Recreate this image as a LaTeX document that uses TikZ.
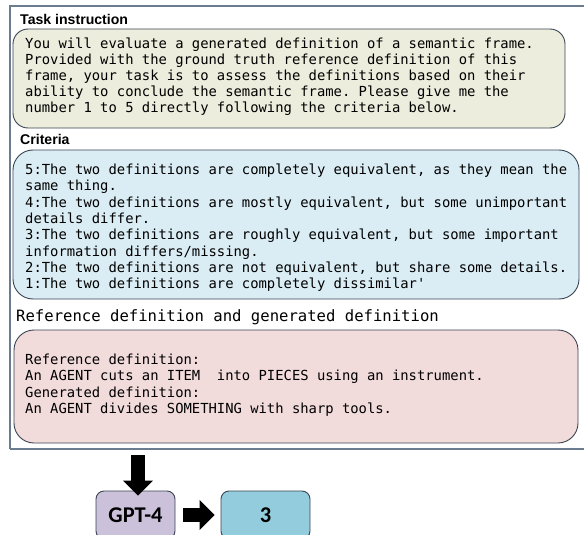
\documentclass[tikz,border=0pt]{standalone}
\usepackage{fontspec}
\setmainfont{Liberation Sans}
\setmonofont{DejaVu Sans Mono}
\newfontfamily\calfont{Carlito}
\usetikzlibrary{arrows.meta}
\definecolor{framec}{HTML}{6B7C90}
\definecolor{edgec}{HTML}{3A4553}
\definecolor{taskfill}{HTML}{ECEDDD}
\definecolor{critfill}{HTML}{DBEDF4}
\definecolor{reffill}{HTML}{F2DBDB}
\definecolor{gptfill}{HTML}{CCC1DB}
\definecolor{outfill}{HTML}{93CDDD}
\tikzset{
  lbl/.style={anchor=base west,inner sep=0pt,font=\bfseries\fontsize{14.1}{16}\selectfont},
  mono/.style={anchor=base west,inner sep=0pt,font=\ttfamily\fontsize{13.85}{16}\selectfont},
  monobig/.style={anchor=base west,inner sep=0pt,font=\ttfamily\fontsize{15.6}{18}\selectfont},
  panel/.style={draw=edgec,line width=0.9pt},
  smallbox/.style={draw=edgec,line width=0.9pt,rounded corners=8pt,inner sep=0pt,
    font=\calfont\bfseries\fontsize{22.5}{26}\selectfont},
  blockarrow/.style={line width=14pt,-{Triangle[width=29pt,length=15pt]}},
}
\begin{document}
\begin{tikzpicture}[x=1pt,y=-1pt]
\useasboundingbox (0,0) rectangle (584,535);
% outer frame
\draw[framec,line width=1.1pt] (10,449) -- (10,6) -- (600,6) (10,449) -- (600,449);
\coordinate (framebot) at (138,455);
% task instruction
\node[lbl] (tasklbl) at (20,25) {Task instruction};
\draw[panel,fill=taskfill,rounded corners=15pt] (13,29) rectangle (565,128);
\node[mono] (t1) at (25,49) {You will evaluate a generated definition of a semantic frame.};
\node[mono] (t2) at (25,64.8) {Provided with the ground truth reference definition of this};
\node[mono] (t3) at (25,80.6) {frame, your task is to assess the definitions based on their};
\node[mono] (t4) at (25,96.4) {ability to conclude the semantic frame. Please give me the};
\node[mono] (t5) at (25,112.2) {number 1 to 5 directly following the criteria below.};
% criteria
\node[lbl] (critlbl) at (20,144) {Criteria};
\draw[panel,fill=critfill,rounded corners=20pt] (13,150) rectangle (579,299);
\node[mono] (c1) at (25,174.5) {5:The two definitions are completely equivalent, as they mean the};
\node[mono] (c2) at (25,190.8) {same thing.};
\node[mono] (c3) at (25,207.1) {4:The two definitions are mostly equivalent, but some unimportant};
\node[mono] (c4) at (25,223.4) {details differ.};
\node[mono] (c5) at (25,239.7) {3:The two definitions are roughly equivalent, but some important};
\node[mono] (c6) at (25,256.0) {information differs/missing.};
\node[mono] (c7) at (25,272.3) {2:The two definitions are not equivalent, but share some details.};
\node[mono] (c8) at (25,288.6) {1:The two definitions are completely dissimilar'};
% reference
\node[monobig] (reflbl) at (16,321) {Reference definition and generated definition};
\draw[panel,fill=reffill,rounded corners=20pt] (14,330) rectangle (578,443);
\node[mono] (r1) at (25,364.5) {Reference definition:};
\node[mono] (r2) at (25,380.8) {An AGENT cuts an ITEM\ \ into PIECES using an instrument.};
\node[mono] (r3) at (25,397.1) {Generated definition:};
\node[mono] (r4) at (25,413.4) {An AGENT divides SOMETHING with sharp tools.};
% bottom
\node[smallbox,fill=gptfill,minimum width=79pt,minimum height=48pt] (gpt) at (135.5,515) {GPT-4};
\node[smallbox,fill=outfill,minimum width=89pt,minimum height=48pt] (out) at (265.5,515) {3};
\draw[blockarrow] (framebot) -- ([yshift=-5pt]gpt.north -| framebot);
\draw[blockarrow] ([xshift=8pt]gpt.east) -- ([xshift=-6pt]out.west);
\end{tikzpicture}
\end{document}
